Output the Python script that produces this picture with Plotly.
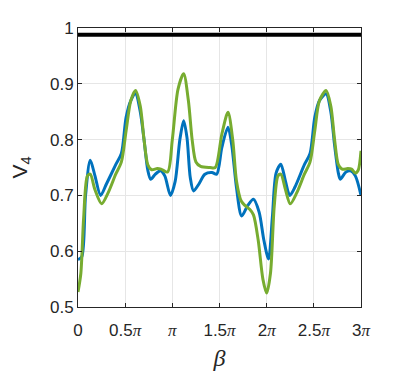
import plotly.graph_objects as go

# beta in units of pi
beta_blue = [0.00, 0.04, 0.08, 0.13, 0.18, 0.24, 0.30, 0.40, 0.46, 0.51, 0.56, 0.61, 0.66, 0.70,
             0.74, 0.77, 0.82, 0.875, 0.92, 0.98, 1.03, 1.08, 1.12, 1.155, 1.19, 1.225, 1.28,
             1.345, 1.42, 1.47, 1.525, 1.59, 1.63, 1.68, 1.735, 1.80, 1.86, 1.92, 1.97, 2.02,
             2.06, 2.10, 2.15, 2.20, 2.245, 2.30, 2.40, 2.46, 2.51, 2.56, 2.63, 2.68, 2.72,
             2.76, 2.78, 2.84, 2.89, 2.94, 3.00]
v4_blue = [0.585, 0.59, 0.70, 0.763, 0.735, 0.70, 0.72, 0.755, 0.775, 0.84, 0.87, 0.882, 0.85, 0.80,
           0.745, 0.729, 0.738, 0.744, 0.735, 0.70, 0.725, 0.80, 0.834, 0.804, 0.732, 0.708, 0.72,
           0.738, 0.741, 0.738, 0.786, 0.822, 0.79, 0.714, 0.663, 0.682, 0.693, 0.67, 0.62, 0.586,
           0.66, 0.74, 0.756, 0.725, 0.70, 0.715, 0.755, 0.775, 0.84, 0.87, 0.882, 0.85, 0.79,
           0.74, 0.729, 0.742, 0.744, 0.735, 0.70]

beta_green = [0.00, 0.03, 0.06, 0.10, 0.13, 0.18, 0.25, 0.32, 0.40, 0.46, 0.51, 0.56, 0.61, 0.66,
              0.70, 0.74, 0.78, 0.84, 0.88, 0.95, 1.00, 1.06, 1.12, 1.17, 1.21, 1.25, 1.30, 1.40,
              1.455, 1.525, 1.59, 1.64, 1.68, 1.73, 1.77, 1.82, 1.86, 1.91, 1.96, 2.00, 2.04, 2.08,
              2.12, 2.15, 2.20, 2.25, 2.32, 2.40, 2.46, 2.51, 2.56, 2.63, 2.68, 2.72, 2.76, 2.80,
              2.86, 2.90, 2.94, 2.97, 3.00]
v4_green = [0.527, 0.56, 0.66, 0.735, 0.738, 0.71, 0.685, 0.705, 0.738, 0.76, 0.816, 0.87, 0.888, 0.86,
            0.80, 0.755, 0.746, 0.748, 0.747, 0.742, 0.80, 0.89, 0.918, 0.87, 0.80, 0.76, 0.752, 0.75,
            0.75, 0.81, 0.849, 0.80, 0.726, 0.69, 0.682, 0.675, 0.665, 0.62, 0.55, 0.525, 0.56, 0.68,
            0.735, 0.738, 0.71, 0.685, 0.705, 0.738, 0.76, 0.816, 0.87, 0.888, 0.86, 0.80, 0.755, 0.747,
            0.748, 0.747, 0.74, 0.745, 0.78]

beta_black = [0.0, 3.0]
v4_black = [0.988, 0.988]

tick_vals = [0, 0.5, 1, 1.5, 2, 2.5, 3]
pi = '<span style="font-family:Liberation Serif"><i>π</i></span>'
tick_text = ["0", "0.5" + pi, pi, "1.5" + pi, "2" + pi, "2.5" + pi, "3" + pi]

fig = go.Figure()
fig.add_trace(go.Scatter(x=beta_black, y=v4_black, mode="lines",
                         line=dict(color="black", width=4)))
fig.add_trace(go.Scatter(x=beta_blue, y=v4_blue, mode="lines",
                         line=dict(color="#0072BD", width=3, shape="spline", smoothing=0.8)))
fig.add_trace(go.Scatter(x=beta_green, y=v4_green, mode="lines",
                         line=dict(color="#77AC30", width=3, shape="spline", smoothing=0.8)))

axis_common = dict(showline=True, linecolor="#262626", linewidth=1, mirror="ticks",
                   ticks="inside", ticklen=4, tickcolor="#262626", automargin=False,
                   showgrid=True, gridcolor="#e6e6e6", gridwidth=1, zeroline=False,
                   tickfont=dict(family="Liberation Sans, Arial", size=17, color="#262626"))

fig.update_xaxes(range=[0, 3], tickvals=tick_vals, ticktext=tick_text, ticklabelstandoff=8,
                 title=dict(text="<i>β</i>", font=dict(family="Liberation Serif", size=24, color="#262626"),
                            standoff=9),
                 **axis_common)
fig.update_yaxes(range=[0.5, 1.0], dtick=0.1, tickformat="~g",
                 title=dict(text="V<sub>4</sub>", font=dict(family="Liberation Sans, Arial", size=21, color="#262626"),
                            standoff=23),
                 **axis_common)

# page has an 8px body margin, so the figure is drawn slightly smaller
fig.update_layout(width=391, height=363, showlegend=False,
                  margin=dict(l=70, r=38, t=20, b=64),
                  plot_bgcolor="white", paper_bgcolor="white")

fig.write_html("out.html")
